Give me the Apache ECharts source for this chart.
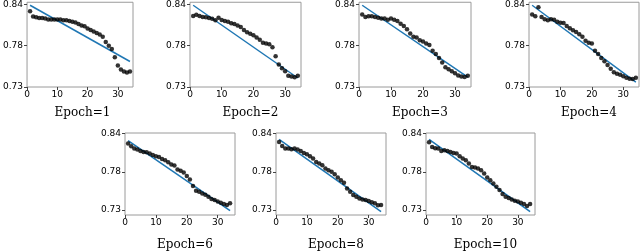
<!DOCTYPE html>
<html><head><meta charset="utf-8">
<script src="https://cdn.jsdelivr.net/npm/echarts@6/dist/echarts.min.js"></script>
<style>html,body{margin:0;padding:0;background:#fff}#c{width:640px;height:251px}</style>
</head><body><div id="c"></div>
<script>
var xs = [1,2,3,4,5,6,7,8,9,10,11,12,13,14,15,16,17,18,19,20,21,22,23,24,25,26,27,28,29,30,31,32,33,34];
var xTicks = [0,10,20,30];
var yTicks = [0.73, 0.785, 0.84];
var yTickLabels = ["0.73","0.78","0.84"];
var titles = ["Epoch=1","Epoch=2","Epoch=3","Epoch=4","Epoch=6","Epoch=8","Epoch=10"];

var epoch1 = [0.831,0.824,0.823,0.822,0.822,0.8215,0.820,0.820,0.820,0.820,0.820,0.819,0.819,0.818,0.817,0.816,0.814,0.812,0.811,0.808,0.806,0.804,0.802,0.800,0.797,0.790,0.785,0.7806,0.7696,0.7586,0.7533,0.7507,0.7494,0.7507];
var epoch2 = [0.8246,0.8264,0.8246,0.8235,0.823,0.822,0.821,0.819,0.8225,0.8195,0.818,0.817,0.815,0.814,0.812,0.810,0.806,0.803,0.801,0.799,0.796,0.793,0.789,0.788,0.787,0.783,0.771,0.760,0.755,0.751,0.745,0.744,0.743,0.745];
var epoch3 = [0.8268,0.8233,0.8242,0.8242,0.8233,0.8224,0.8215,0.8215,0.8198,0.8215,0.8198,0.818,0.8145,0.8114,0.807,0.8013,0.7969,0.796,0.7925,0.7907,0.7881,0.7859,0.7784,0.774,0.7687,0.7626,0.7564,0.7538,0.7511,0.7485,0.7454,0.7441,0.7432,0.745];
var epoch4 = [0.8268,0.8242,0.8365,0.8233,0.8202,0.8189,0.8202,0.8198,0.8171,0.8158,0.8154,0.8114,0.8083,0.8057,0.8035,0.8004,0.7969,0.7916,0.789,0.7881,0.7784,0.774,0.7687,0.7643,0.7595,0.7542,0.7498,0.7476,0.7463,0.7445,0.7423,0.741,0.7406,0.7423];
var epoch6 = [0.8256,0.8218,0.8184,0.817,0.8151,0.8137,0.8132,0.8113,0.8093,0.8074,0.8065,0.8036,0.8017,0.7988,0.7955,0.7941,0.7883,0.7864,0.784,0.7788,0.774,0.7644,0.7577,0.7563,0.7539,0.752,0.7491,0.7458,0.7443,0.7424,0.7405,0.7386,0.7372,0.7396];
var epoch8 = [0.828,0.8223,0.8184,0.8184,0.8175,0.8184,0.817,0.8151,0.8122,0.8103,0.8074,0.8041,0.7993,0.7969,0.7945,0.7898,0.7874,0.785,0.7816,0.7768,0.773,0.7692,0.7611,0.7563,0.7515,0.7491,0.7467,0.7453,0.7443,0.7429,0.741,0.7396,0.7367,0.7372];
var epoch10 = [0.8275,0.8208,0.8189,0.8184,0.8151,0.816,0.8151,0.8137,0.8122,0.8113,0.8074,0.8041,0.8017,0.7969,0.7921,0.7912,0.7898,0.7874,0.7826,0.7768,0.773,0.7682,0.7635,0.7587,0.7529,0.7491,0.7472,0.7453,0.7434,0.7424,0.7405,0.7386,0.7357,0.7386];
var panels = [epoch1, epoch2, epoch3, epoch4, epoch6, epoch8, epoch10];
// fitted line endpoints (value at x=1, value at x=34)
var fitStart = [0.839, 0.839, 0.839, 0.839, 0.830, 0.8318, 0.8318];
var fitEnd   = [0.764, 0.742, 0.7432, 0.7366, 0.729, 0.7276, 0.7276];

var layout = [
  {left:22, top:1, w:111, h:86, xmax:35, ymin:0.73, ymax:0.843, tt:102},
  {left:190, top:1, w:111, h:86, xmax:35, ymin:0.73, ymax:0.843, tt:102},
  {left:359, top:1, w:112, h:86, xmax:35, ymin:0.73, ymax:0.843, tt:102},
  {left:529, top:1, w:110, h:86, xmax:35, ymin:0.73, ymax:0.843, tt:102},
  {left:125, top:133, w:110, h:82, xmax:35.6, ymin:0.7228, ymax:0.8409, tt:234},
  {left:276, top:133, w:110, h:82, xmax:35.6, ymin:0.7228, ymax:0.8409, tt:234},
  {left:426, top:133, w:109, h:82, xmax:35.6, ymin:0.7228, ymax:0.8409, tt:234}
];

var grid=[], xAxis=[], yAxis=[], series=[], title=[];
layout.forEach(function(L,i){
  grid.push({left:L.left, top:L.top, width:L.w, height:L.h, show:true, borderColor:'#9a9a9a', borderWidth:1, backgroundColor:'#fff', containLabel:false});
  xAxis.push({type:'value', gridIndex:i, min:0, max:L.xmax, interval:10,
    axisLine:{show:false}, splitLine:{show:false},
    axisTick:{show:true, inside:false, length:3, lineStyle:{color:'#444'}, customValues:xTicks},
    axisLabel:{show:true, margin:3, fontSize:9, color:'#000', fontFamily:'DejaVu Sans', customValues:xTicks, hideOverlap:false}});
  yAxis.push({type:'value', gridIndex:i, min:L.ymin, max:L.ymax,
    axisLine:{show:false}, splitLine:{show:false},
    axisTick:{show:true, length:3, lineStyle:{color:'#444'}, customValues:yTicks},
    axisLabel:{show:true, margin:4, fontSize:9, color:'#000', fontFamily:'DejaVu Sans', customValues:yTicks,
      formatter:function(v){var k=0,b=1e9;yTicks.forEach(function(t,j){if(Math.abs(t-v)<b){b=Math.abs(t-v);k=j;}});return yTickLabels[k];}}});
  series.push({type:'line', xAxisIndex:i, yAxisIndex:i, data:[[xs[0],fitStart[i]],[xs[xs.length-1],fitEnd[i]]],
    showSymbol:false, symbol:'none', lineStyle:{color:'#1f77b4', width:1.5}, z:2, silent:true, animation:false});
  series.push({type:'scatter', xAxisIndex:i, yAxisIndex:i, data:xs.map(function(x,j){return [x,panels[i][j]];}),
    symbolSize:4.5, itemStyle:{color:'#000'}, z:3, silent:true, animation:false});
  title.push({text:titles[i], left:L.left+L.w/2, top:L.tt, textAlign:'center',
    textStyle:{fontFamily:'DejaVu Serif', fontWeight:'normal', fontSize:12, color:'#000'}});
});

var chart = echarts.init(document.getElementById('c'), null, {renderer:'canvas'});
chart.setOption({animation:false, title:title, grid:grid, xAxis:xAxis, yAxis:yAxis, series:series});
</script></body></html>
